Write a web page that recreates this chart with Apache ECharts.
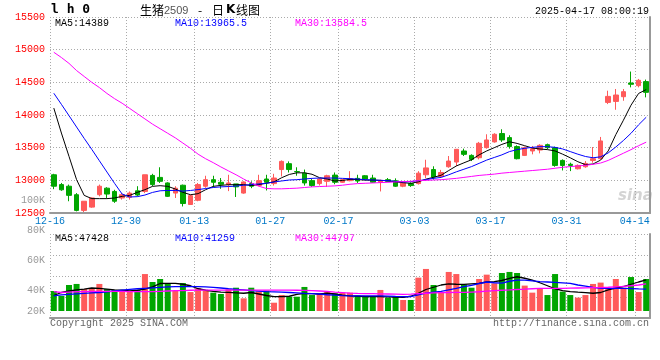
<!DOCTYPE html>
<html><head><meta charset="utf-8">
<script src="https://cdn.jsdelivr.net/npm/echarts@6/dist/echarts.min.js"></script>
<style>html,body{margin:0;padding:0;background:#fff}#c{width:660px;height:360px}</style>
</head><body><div id="c"></div>
<script>
// trading days; each label/gridline sits at the left edge of its day
const dates = ['12-16','12-17','12-18','12-19','12-20','12-23','12-24','12-25','12-26','12-27',
'12-30','12-31','01-02','01-03','01-06','01-07','01-08','01-09','01-10','01-13',
'01-14','01-15','01-16','01-17','01-20','01-21','01-22','01-23','01-24','01-27',
'02-05','02-06','02-07','02-10','02-11','02-12','02-13','02-14','02-17','02-18',
'02-19','02-20','02-21','02-24','02-25','02-26','02-27','02-28','03-03','03-04',
'03-05','03-06','03-07','03-10','03-11','03-12','03-13','03-14','03-17','03-18',
'03-19','03-20','03-21','03-24','03-25','03-26','03-27','03-28','03-31','04-01',
'04-02','04-03','04-07','04-08','04-09','04-10','04-11','04-14','04-15','04-16'];
const labelDates = ['12-16','12-30','01-13','01-27','02-17','03-03','03-17','03-31','04-14'];

const open = [13085,12935,12910,12780,12540,12590,12780,12880,12830,12730,
12740,12840,12830,13075,13045,12960,12805,12925,12630,12695,
12910,13010,12970,12935,12945,12805,12950,12920,13020,12950,
13165,13255,13135,13110,12995,12950,12985,13080,12970,12995,
13030,13070,13035,12970,13010,12995,12910,12950,12950,13085,
13165,13060,13208,13280,13449,13382,13346,13500,13588,13716,
13654,13516,13382,13449,13464,13546,13500,13305,13246,13177,
13208,13305,13331,14193,14208,14280,14490,14449,14511];
const close = [12910,12855,12770,12540,12680,12730,12910,12790,12680,12780,
12805,12775,13085,12935,12985,12755,12880,12645,12765,12935,
13010,12970,12940,12960,12900,12975,12910,12995,12970,13035,
13290,13165,13130,12960,12920,13020,13070,12970,13010,13025,
12990,13020,12970,12995,12985,12910,12960,12920,13110,13190,
13050,13120,13295,13475,13398,13321,13567,13618,13705,13618,
13516,13331,13500,13485,13536,13500,13228,13228,13228,13228,
13259,13331,13603,14285,14306,14357,14470,14531,14347];
const low = [12865,12840,12680,12525,12515,12580,12755,12730,12655,12705,
12705,12755,12805,12910,12960,12745,12730,12600,12630,12680,
12885,12895,12870,12835,12745,12795,12880,12910,12845,12920,
13060,13120,13070,12920,12900,12920,12900,12940,12960,12985,
12960,13010,12960,12830,12985,12900,12895,12900,12935,13035,
13010,13040,13193,13218,13372,13295,13321,13485,13577,13588,
13485,13321,13372,13398,13413,13475,13208,13151,13141,13167,
13193,13270,13321,14167,14080,14218,14423,14423,14270];
const high = [13100,12960,12935,12805,12680,12740,12935,12895,12855,12805,
12830,12910,13085,13100,13200,12970,12910,12935,12780,12960,
13070,13070,13035,13085,12945,12985,12985,13085,13085,13100,
13305,13290,13200,13165,13020,13035,13085,13120,13020,13140,
13085,13080,13085,13010,13035,13030,12970,12970,13140,13315,
13215,13160,13372,13475,13485,13398,13588,13705,13721,13782,
13690,13536,13516,13526,13552,13562,13516,13321,13270,13244,
13295,13510,13664,14372,14398,14398,14665,14552,14542];

const ma5 = [14106,13724,13367,13010,12770,12720,12720,12720,12730,12755,
12770,12816,12857,12908,12918,12908,12867,12816,12780,12796,
12857,12908,12923,12933,12933,12935,12920,12935,12955,12977,
13040,13090,13115,13115,13093,13040,13020,12990,12998,13015,
13012,13003,13003,13000,12992,12976,12964,12954,12977,13018,
13046,13078,13150,13220,13268,13315,13390,13450,13500,13550,
13590,13565,13530,13495,13480,13470,13450,13400,13345,13285,
13240,13250,13310,13450,13700,13920,14150,14330,14389];
const ma10 = [14333,14163,13990,13816,13642,13474,13300,13127,12954,12790,
12745,12750,12775,12815,12840,12845,12845,12835,12845,12858,
12875,12890,12900,12905,12912,12925,12935,12945,12955,12975,
12990,13005,13010,13020,13030,13035,13035,13035,13030,13025,
13020,13010,13005,13000,12995,12985,12975,12980,12995,13010,
13030,13045,13085,13130,13170,13210,13260,13310,13350,13390,
13440,13470,13490,13505,13515,13515,13505,13480,13440,13400,
13365,13345,13360,13420,13510,13610,13720,13850,13965.5];
const ma30 = [14960,14880,14790,14680,14590,14500,14420,14330,14250,14180,
14100,14020,13940,13860,13790,13720,13650,13570,13490,13400,
13330,13270,13205,13145,13085,13020,12960,12910,12875,12870,
12870,12875,12880,12890,12900,12905,12910,12915,12925,12940,
12950,12955,12960,12965,12970,12975,12980,12985,12995,13000,
13005,13010,13020,13030,13045,13060,13075,13085,13095,13110,
13120,13130,13140,13150,13160,13170,13185,13200,13210,13220,
13230,13245,13265,13305,13360,13415,13470,13530,13584.5];

const volume = [40000,36700,44000,44700,41300,41800,44700,41300,40700,39600,
39600,40700,51300,46000,48000,45100,40000,45300,39300,41800,
40000,38900,38000,41100,42200,35100,42200,39800,40200,32200,
37300,36200,36200,42700,37300,38000,39600,38400,38900,38900,
36900,36700,36700,40700,35600,36200,34000,34000,48900,54700,
44000,39300,52700,51300,44400,42200,48000,50900,45100,52000,
52700,52000,43600,38900,41800,37300,51300,39600,37300,35600,
37300,44700,45600,41300,48000,42200,49300,39300,48000];
const volMa5 = [37000,39000,40000,40800,41200,42000,41800,41300,40800,40500,
40000,40500,41300,42800,45000,45100,45100,44500,43500,41500,
40500,39800,39200,39100,38800,38500,39000,38000,37000,36200,
36200,36500,37800,38400,38200,38000,38500,38000,37300,36800,
36500,36200,36200,36200,36100,36000,35800,36500,38500,41000,
42500,44000,44700,44500,44400,44800,45100,46000,46200,47000,
48400,49500,48500,47300,45500,43500,41500,40300,39600,39200,
38900,38500,39000,40700,42000,43000,44500,46000,47428];
const volMa10 = [36800,37400,37800,38100,38400,38700,39000,39500,40000,40600,
41100,41500,41800,42100,42400,42700,42900,42900,42900,42900,
42700,42400,42000,41500,41100,40700,40200,39900,39600,39400,
39200,39000,38700,38400,38200,38000,37500,37200,36900,36700,
36700,36700,36700,36700,36600,36400,36300,36200,37400,38600,
39300,39800,40800,41800,42900,43800,45000,46000,45500,45200,
46500,47300,47300,46800,46300,46000,45700,45400,45100,44000,
43300,42400,41800,41800,41800,41800,41600,41400,41259];
const volMa30 = [39600,39000,39300,39500,39600,39700,39800,39800,39800,39700,
39600,39600,39600,39600,39800,40000,40200,40300,40500,40600,
40600,40600,40600,40600,40600,40600,40600,40600,40600,40600,
40600,40600,40500,40400,40200,40000,39700,39200,38900,38600,
38400,38300,38200,38100,38000,37900,37800,37900,38300,38500,
38800,38900,39000,39100,39100,39300,39500,39900,40200,40500,
40700,41000,41200,41500,41800,41800,41800,41800,41900,42000,
42100,42200,42300,42500,42800,43100,43500,44000,44797];

const priceMin = 12500, priceMax = 15500, priceStep = 500;
const volTicksMin = 20000, volTicksMax = 100000, volTickStep = 20000;
const volAxisMin = 26667, volAxisMax = 78000;

const chart = echarts.init(document.getElementById('c'), null, {renderer: 'canvas'});
const candleDates = dates.slice(0, open.length);
const candles = open.map((o, i) => [o, close[i], low[i], high[i]]);
const UP = '#ff5a5a', DOWN = '#00a600';
const volData = volume.map((v, i) => ({value: v, itemStyle: {color: close[i] >= open[i] ? UP : DOWN}}));
const mono = '"Liberation Mono", "DejaVu Sans Mono", monospace';
const dotted = {color: '#aaaaaa', width: 1, type: [1, 2]};
const showLabel = (i, v) => labelDates.indexOf(v) >= 0;
const frameLine = {show: true, lineStyle: {color: '#999999', width: 2}};
const txt = (x, y, s, fill, font, extra) => Object.assign({type: 'text', left: x, top: y, silent: true,
  style: {text: s, fill: fill, font: font}}, extra || {});
const lineS = (name, data, color, xi, yi, w) => ({name, type: 'line', data, xAxisIndex: xi, yAxisIndex: yi,
  showSymbol: false, symbol: 'none', lineStyle: {color, width: w}, itemStyle: {color}, z: 3});

chart.setOption({
  animation: false,
  grid: [
    {left: 50, right: 10, top: 17, height: 196},
    {left: 50, right: 10, top: 234, height: 77},
    {left: 50, right: 10, top: 234, height: 84},
    {left: 50, right: 10, top: 200, height: 120}
  ],
  xAxis: [
    {type: 'category', gridIndex: 0, position: 'top', data: candleDates, boundaryGap: true, show: false},
    {type: 'category', gridIndex: 0, position: 'bottom', data: dates, boundaryGap: false, axisLine: frameLine,
      axisTick: {show: false},
      axisLabel: {interval: showLabel, color: '#0078c8', fontFamily: mono, fontSize: 10, margin: 3},
      splitLine: {show: true, interval: showLabel, lineStyle: dotted}},
    {type: 'category', gridIndex: 1, position: 'top', data: candleDates, boundaryGap: true, show: false},
    {type: 'category', gridIndex: 2, position: 'bottom', data: dates, boundaryGap: false, axisLine: frameLine,
      axisTick: {show: false}, axisLabel: {show: false},
      splitLine: {show: true, interval: showLabel, lineStyle: dotted}},
    {type: 'category', gridIndex: 3, position: 'top', data: dates, show: false}
  ],
  yAxis: [
    {type: 'value', gridIndex: 0, position: 'left', min: priceMin, max: priceMax, interval: priceStep,
      axisLine: {show: false}, axisTick: {show: false},
      axisLabel: {color: '#ff0000', fontFamily: mono, fontSize: 10, margin: 5, padding: [0, 0, 3, 0],
        formatter: v => String(v)},
      splitLine: {show: true, lineStyle: dotted}},
    {type: 'value', gridIndex: 0, position: 'right', min: priceMin, max: priceMax, interval: priceStep,
      axisLine: frameLine, axisTick: {show: false}, axisLabel: {show: false}, splitLine: {show: false}},
    {type: 'value', gridIndex: 1, min: volAxisMin, max: volAxisMax, show: false},
    {type: 'value', gridIndex: 2, position: 'left', min: 0, max: 4, interval: 1,
      axisLine: {show: false}, axisTick: {show: false}, axisLabel: {show: false},
      splitLine: {show: true, lineStyle: dotted}},
    {type: 'value', gridIndex: 2, position: 'right', min: 0, max: 4, interval: 1,
      axisLine: frameLine, axisTick: {show: false}, axisLabel: {show: false}, splitLine: {show: false}},
    {type: 'value', gridIndex: 3, position: 'left', min: volTicksMin, max: volTicksMax, interval: volTickStep,
      axisLine: {show: false}, axisTick: {show: false}, splitLine: {show: false},
      axisLabel: {color: '#999999', fontFamily: mono, fontSize: 10, margin: 5,
        formatter: v => v === volTicksMin ? '{lo|' + (v / 1000) + 'K}' : (v / 1000) + 'K',
        rich: {lo: {color: '#999999', fontFamily: mono, fontSize: 10, padding: [0, 0, 18, 0]}}}}
  ],
  series: [
    {type: 'candlestick', xAxisIndex: 0, yAxisIndex: 0, data: candles, barWidth: 5,
      itemStyle: {color: UP, color0: DOWN, borderColor: UP, borderColor0: DOWN, borderWidth: 1}},
    lineS('MA5', ma5, '#000000', 0, 0, 1),
    lineS('MA10', ma10, '#0000ff', 0, 0, 1),
    lineS('MA30', ma30, '#ff00ff', 0, 0, 1),
    {type: 'bar', xAxisIndex: 2, yAxisIndex: 2, data: volData, barWidth: 6, clip: true},
    lineS('VMA5', volMa5, '#000000', 2, 2, 1.3),
    lineS('VMA10', volMa10, '#0000ff', 2, 2, 1.3),
    lineS('VMA30', volMa30, '#ff00ff', 2, 2, 1.3)
  ],
  graphic: [
    txt(51, 3, 'l h 0', '#000', 'bold 13px "DejaVu Sans Mono", monospace'),
    txt(140, 4, '生猪', '#000', '12px "Noto Sans CJK SC"'),
    txt(164, 5, '2509', '#555', '11px "Liberation Sans", sans-serif'),
    txt(198, 4, '-', '#000', '12px "Noto Sans CJK SC"'),
    txt(212, 4, '日', '#000', '12px "Noto Sans CJK SC"'),
    txt(226, 4, 'K', '#000', 'bold 12px "DejaVu Sans", sans-serif'),
    txt(236, 4, '线图', '#000', '12px "Noto Sans CJK SC"'),
    txt(null, 6, '2025-04-17 08:00:19', '#000', '10px ' + mono, {right: 11}),
    txt(55, 18, 'MA5:14389', '#000', '10px ' + mono),
    txt(175, 18, 'MA10:13965.5', '#0000ff', '10px ' + mono),
    txt(295, 18, 'MA30:13584.5', '#ff00ff', '10px ' + mono),
    txt(55, 233, 'MA5:47428', '#000', '10px ' + mono),
    txt(175, 233, 'MA10:41259', '#0000ff', '10px ' + mono),
    txt(295, 233, 'MA30:44797', '#ff00ff', '10px ' + mono),
    txt(50, 318, 'Copyright 2025 SINA.COM', '#666', '10px ' + mono),
    txt(null, 318, 'http://finance.sina.com.cn', '#666', '10px ' + mono, {right: 11}),
    txt(618, 189, 'sina', '#d4d4d4', 'italic bold 15px "DejaVu Sans", sans-serif')
  ]
});
</script></body></html>
